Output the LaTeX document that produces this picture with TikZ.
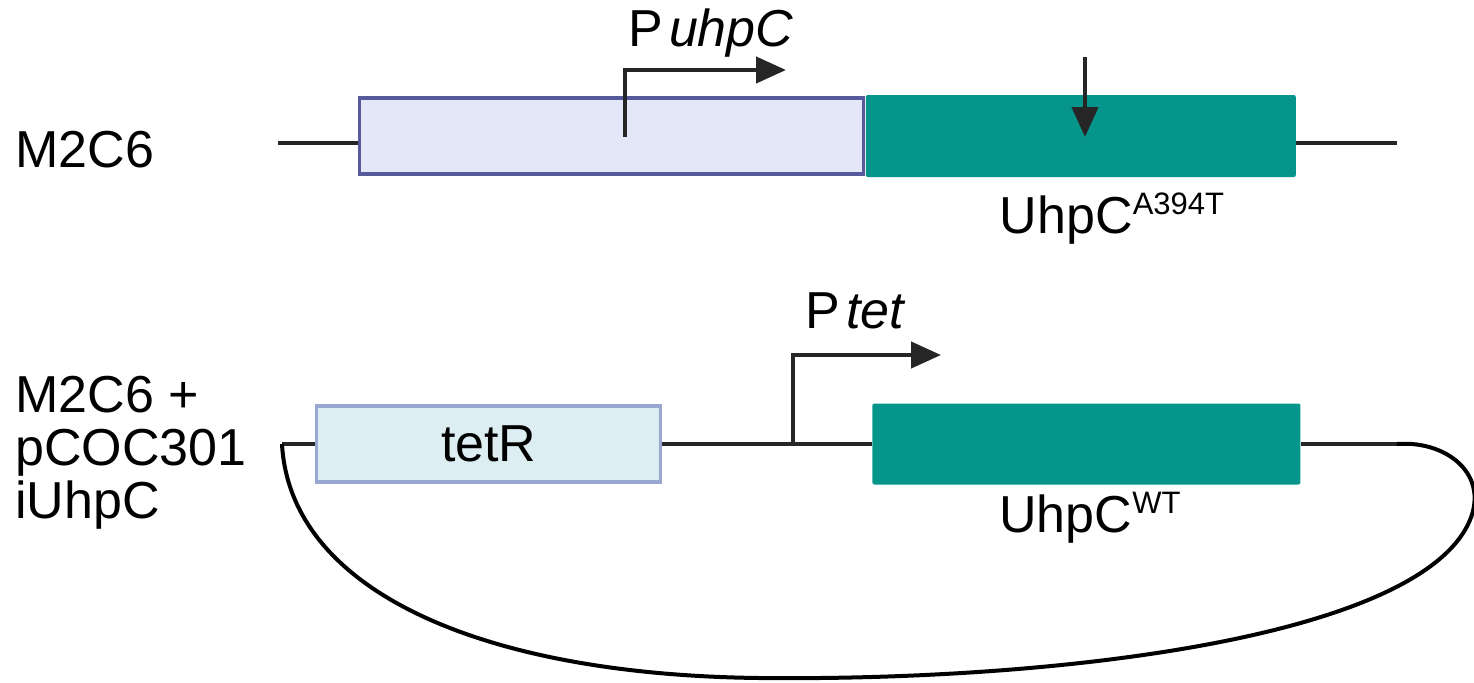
\documentclass[tikz,border=0pt]{standalone}
\usepackage{fontspec}
\setmainfont{Liberation Sans}
\usetikzlibrary{positioning,arrows.meta}
\definecolor{genecol}{HTML}{06958A}
\definecolor{promfill}{HTML}{E4E7F7}
\definecolor{promedge}{HTML}{56599A}
\definecolor{tetfill}{HTML}{DCEEF2}
\definecolor{tetedge}{HTML}{98A8D0}
\definecolor{dna}{HTML}{262626}
\newcommand{\allele}[1]{\raisebox{9.5pt}{\fontsize{15.5}{15.5}\selectfont #1}}

\begin{document}
\begin{tikzpicture}[x=0.5pt,y=-0.5pt,
  every node/.style={font=\fontsize{26}{26.5}\selectfont,inner sep=0pt},
  gene/.style={fill=genecol,rounded corners=1pt,minimum height=41pt},
  promoter/.style={fill=promfill,draw=promedge,line width=1.7pt,minimum height=38pt},
  repressor/.style={fill=tetfill,draw=tetedge,line width=1.7pt,minimum height=38pt},
  backbone/.style={draw=dna,line width=2pt},
  tss/.style={draw=dna,line width=2.2pt,-{Triangle[length=15pt,width=13pt]}},
  plasmid/.style={draw=black,line width=2pt}]
\useasboundingbox (0,0) rectangle (1474,682);
% chromosome
\node[anchor=base west] (strain1) at (15,167) {M2C6};
\node[promoter,minimum width=252pt,anchor=west] (puhpc) at (358,136) {};
\node[gene,minimum width=215pt,anchor=west] (mutant) at (puhpc.east) {};
\coordinate (l1) at (278,143);
\coordinate (r1) at (1397,143);
\draw[backbone] (l1) -- (l1 -| puhpc.west);
\draw[backbone] (r1 -| mutant.east) -- (r1);
\coordinate (tss1) at (625,137);
\draw[tss] (tss1) |- (786,70);
\node[anchor=base] (puhplabel) at (711,46) {P\kern3pt\textit{uhpC}};
\coordinate (snp) at (1085,57);
\draw[tss] (snp) -- (1085,137);
\node[anchor=base] (mutlabel) at (1112,233) {UhpC\allele{A394T}};
% plasmid
\node[anchor=north west,align=left] (strain2) at (15,376) {M2C6 +\\pCOC301\\iUhpC};
\node[repressor,minimum width=172pt,anchor=west] (tetr) at (315,444) {tetR};
\node[gene,minimum width=214pt,minimum height=40.5pt,anchor=west] (wildtype) at (872,444) {};
\coordinate (l2) at (282,444);
\coordinate (r2) at (1397,444);
\draw[backbone] (l2) -- (tetr.west);
\draw[backbone] (tetr.east) -- (wildtype.west);
\draw[backbone] (wildtype.east) -- (r2);
\coordinate (tss2) at (793,444);
\draw[tss] (tss2) |- (941,355);
\node[anchor=base] (ptetlabel) at (856,328) {P\kern3pt\textit{tet}};
\node[anchor=base] (wtlabel) at (1090,532) {UhpC\allele{WT}};
\draw[plasmid] (l2) .. controls (290,590) and (480,675) .. (760,678)
  .. controls (1050,681) and (1400,640) .. (1465,530)
  .. controls (1495,479) and (1450,440) .. (r2);
\end{tikzpicture}
\end{document}
